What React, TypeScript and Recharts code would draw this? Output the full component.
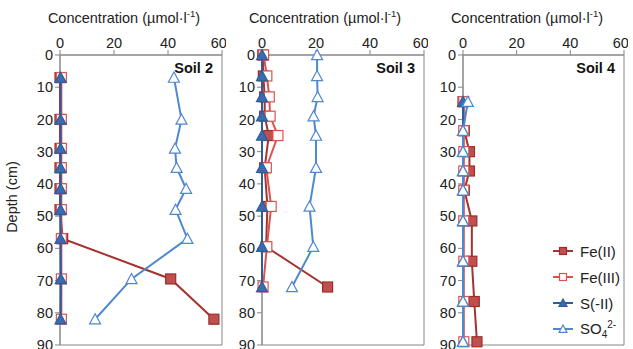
import React from "react";
import { ScatterChart, Scatter, XAxis, YAxis, ReferenceArea } from "recharts";

// #region Sample data
const concTicks = [0, 20, 40, 60];
const depthTicks = [0, 10, 20, 30, 40, 50, 60, 70, 80, 90];

const soil2Depth = [7, 20, 29, 35, 41.5, 48, 57, 69.5, 82];
const soil2FeII = [0, 0, 0, 0, 0, 0, 1, 41, 57];
const soil2FeIII = [0.5, 0.5, 0.5, 0.5, 0.5, 0.5, 0.5, 0.5, 0.5];
const soil2SII = [0.2, 0.2, 0.2, 0.2, 0.2, 0.2, 0.2, 0.3, 0.2];
const soil2SO4 = [42.2, 45, 42.6, 43.2, 46.7, 42.8, 47.2, 26.5, 13];

const soil3Depth = [0, 6.5, 13, 19, 25, 35, 47, 59.5, 72];
const soil3FeII = [0.3, 0.5, 1, 1, 2.5, 1, 2, 1.5, 24.3];
const soil3FeIII = [0.6, 1.8, 2.7, 3, 5.9, 1.6, 3.4, 1.8, 0.4];
const soil3SII = [0, 0, 0, 0, 0, 0, 0, 0, 0];
const soil3SO4 = [20.4, 20.4, 20.6, 19.1, 20, 20, 17.6, 19, 11.1];

const soil4Depth = [14.5, 23.5, 30, 36, 42, 51.5, 64, 76.5, 89];
const soil4FeII = [0, 0.5, 2.4, 2.4, 0.5, 3.3, 3.3, 4.2, 5.2];
const soil4FeIII = [0.3, 0.3, 0.3, 0.3, 0.3, 0.3, 0.3, 0.3, 0.3];
const soil4SII = [0, 0, 0, 0, 0, 0, 0, 0, 0];
const soil4SO4 = [1.8, 0, 0, 0, 0, 0, 0, 0, 0];
// #endregion

const FONT = "'Liberation Sans', Arial, sans-serif";
const AXIS = "#868686";

const toPoints = (depth: number[], vals: number[]) =>
  depth.map((d, i) => ({ depth: d, conc: vals[i] }));

// marker shapes, r = half size
const square = (fill: string, stroke: string, r = 5) => (p: any) => (
  <rect x={p.cx - r} y={p.cy - r} width={2 * r} height={2 * r} fill={fill} stroke={stroke} strokeWidth={1.2} />
);
const triangle = (fill: string, stroke: string, r = 5.5) => (p: any) => (
  <polygon
    points={`${p.cx},${p.cy - r} ${p.cx + r},${p.cy + r * 0.85} ${p.cx - r},${p.cy + r * 0.85}`}
    fill={fill}
    stroke={stroke}
    strokeWidth={1.2}
  />
);

const series = [
  { name: "Fe(II)", line: "#A5332F", fill: "#C0504D", stroke: "#9B2D2A", kind: "sq" },
  { name: "Fe(III)", line: "#D9534F", fill: "#FFFFFF", stroke: "#D9534F", kind: "sq" },
  { name: "S(-II)", line: "#2F5C9A", fill: "#3A6DB0", stroke: "#2F5C9A", kind: "tri" },
  { name: "SO4", line: "#4F88CF", fill: "#FFFFFF", stroke: "#4F88CF", kind: "tri" },
];

const shapeFor = (s: (typeof series)[number], small = false) =>
  s.kind === "sq" ? square(s.fill, s.stroke, small ? 3.5 : 5) : triangle(s.fill, s.stroke, small ? 4 : 5.5);

const LegendBox = () => (
  <div style={{ position: "absolute", left: 127, top: 238, fontFamily: FONT, fontSize: 15, color: "#222" }}>
    {series.map((s) => (
      <div key={s.name} style={{ display: "flex", alignItems: "center", height: 26 }}>
        <svg width={24} height={14}>
          <line x1={1} y1={7} x2={21} y2={7} stroke={s.line} strokeWidth={2} />
          {shapeFor(s, true)({ cx: 11, cy: 7 })}
        </svg>
        <span style={{ marginLeft: 4 }}>
          {s.name === "SO4" ? (
            <>
              SO<sub style={{ fontSize: 10 }}>4</sub>
              <sup style={{ fontSize: 10 }}>2-</sup>
            </>
          ) : (
            s.name
          )}
        </span>
      </div>
    ))}
  </div>
);

interface PanelProps {
  title: string;
  depth: number[];
  values: number[][];
  left: number;
  width: number;
  yWidth: number;
  legend?: boolean;
}

const Panel = ({ title, depth, values, left, width, yWidth, legend }: PanelProps) => {
  return (
    <div style={{ position: "absolute", left, top: 0 }}>
      <ScatterChart width={width} height={349} margin={{ top: 35, right: 4, bottom: 4, left: 0 }}>
        <XAxis
          type="number"
          dataKey="conc"
          orientation="top"
          domain={[0, 60]}
          ticks={concTicks}
          height={20}
          tickSize={5}
          stroke={AXIS}
          tick={{ fill: "#222", fontSize: 14.5, fontFamily: FONT }}
        />
        <YAxis
          type="number"
          dataKey="depth"
          reversed
          domain={[0, 90]}
          ticks={depthTicks}
          width={yWidth}
          tickSize={5}
          stroke={AXIS}
          tick={{ fill: "#222", fontSize: 14.5, fontFamily: FONT }}
          interval={0}
        />
        <ReferenceArea x1={0} x2={60} y1={0} y2={90} fill="none" stroke={AXIS} strokeWidth={1} />
        {series.map((s, i) => (
          <Scatter
            key={s.name}
            name={s.name}
            data={toPoints(depth, values[i])}
            line={{ stroke: s.line, strokeWidth: 2 }}
            lineType="joint"
            shape={shapeFor(s)}
            isAnimationActive={false}
          />
        ))}
      </ScatterChart>
      <div
        style={{
          position: "absolute",
          right: 13,
          top: 60,
          fontFamily: FONT,
          fontWeight: "bold",
          fontSize: 14.5,
          color: "#111",
        }}
      >
        {title}
      </div>
      {legend && <LegendBox />}
    </div>
  );
};

const ConcTitle = ({ center }: { center: number }) => (
  <div
    style={{
      position: "absolute",
      left: center - 100,
      width: 200,
      top: 8,
      textAlign: "center",
      fontFamily: FONT,
      fontSize: 14.5,
      color: "#222",
      whiteSpace: "nowrap",
    }}
  >
    Concentration (µmol·l<sup style={{ fontSize: 9.5 }}>-1</sup>)
  </div>
);

const App = () => {
  return (
    <div style={{ position: "absolute", left: 0, top: 0, width: 633, height: 349, background: "#fff" }}>
      <ConcTitle center={124} />
      <ConcTitle center={325} />
      <ConcTitle center={527} />
      <div
        style={{
          position: "absolute",
          left: 12,
          top: 197,
          transform: "translate(-50%, -50%) rotate(-90deg)",
          fontFamily: FONT,
          fontSize: 14.5,
          color: "#222",
          whiteSpace: "nowrap",
        }}
      >
        Depth (cm)
      </div>
      <Panel
        title="Soil 2"
        depth={soil2Depth}
        values={[soil2FeII, soil2FeIII, soil2SII, soil2SO4]}
        left={0}
        width={226}
        yWidth={60}
      />
      <Panel
        title="Soil 3"
        depth={soil3Depth}
        values={[soil3FeII, soil3FeIII, soil3SII, soil3SO4]}
        left={224}
        width={204}
        yWidth={38}
      />
      <Panel
        title="Soil 4"
        depth={soil4Depth}
        values={[soil4FeII, soil4FeIII, soil4SII, soil4SO4]}
        left={425}
        width={203}
        yWidth={38}
        legend
      />
    </div>
  );
};

export default App;
